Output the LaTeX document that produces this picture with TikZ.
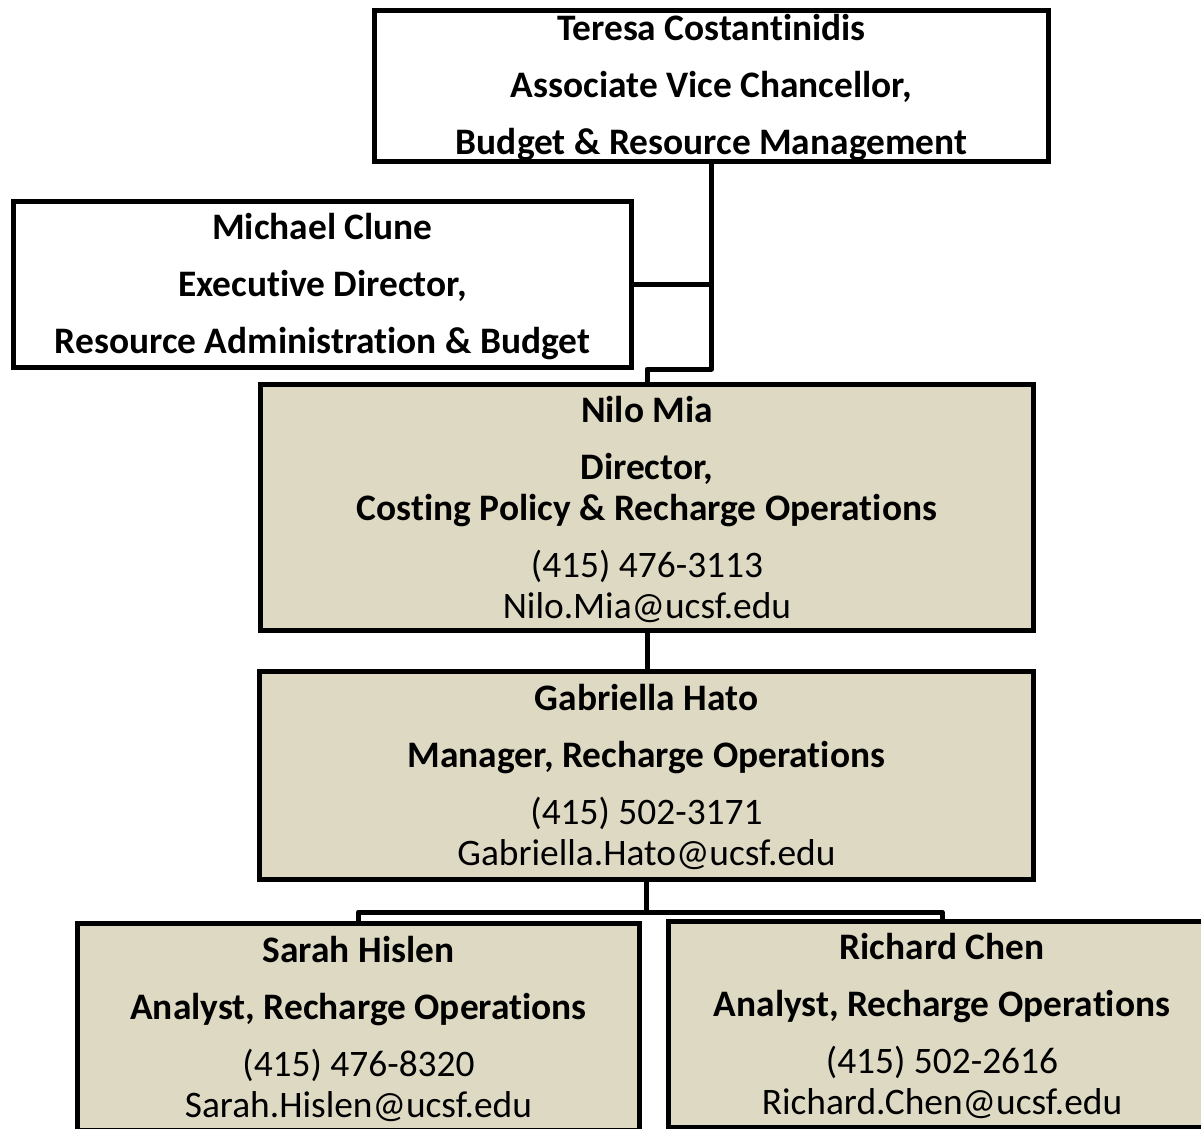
\documentclass[tikz,border=0pt]{standalone}
\usepackage{fontspec}
\setmainfont{Carlito}[Ligatures={NoCommon}]
\definecolor{boxtan}{HTML}{DDD9C3}
\newcommand{\firstline}{\rule{0pt}{15pt}}
\begin{document}
\begin{tikzpicture}[x=0.5pt,y=-0.5pt,
  box/.style={draw=black,line width=2.5pt,rectangle,inner sep=0pt,align=center,
    font=\fontsize{18.7pt}{20.5pt}\selectfont},
  wbox/.style={box,fill=white},
  tbox/.style={box,fill=boxtan},
  link/.style={draw=black,line width=2.5pt,line join=round}]
\clip (0,0) rectangle (1201,1129);
\fill[white] (0,0) rectangle (1201,1129);
\node[wbox,minimum width=337pt,minimum height=74.5pt] (teresa) at (711.5,86)
  {\firstline\textbf{Teresa Costantinidis}\\[8pt]\textbf{Associate Vice Chancellor,}\\[8pt]\textbf{Budget \& Resource Management}};
\node[wbox,minimum width=309pt,minimum height=83pt] (michael) at (322.5,284.5)
  {\firstline\textbf{Michael Clune}\\[8pt]\textbf{Executive Director,}\\[8pt]\textbf{Resource Administration \& Budget}};
\node[tbox,minimum width=386.5pt,minimum height=123pt] (nilo) at (647,507.5)
  {\firstline\textbf{Nilo Mia}\\[8pt]\textbf{Director,}\\\textbf{Costing Policy \& Recharge Operations}\\[8pt](415) 476-3113\\Nilo.Mia@ucsf.edu};
\node[tbox,minimum width=387pt,minimum height=104pt] (gab) at (646.5,775.5)
  {\firstline\textbf{Gabriella Hato}\\[8pt]\textbf{Manager, Recharge Operations}\\[8pt](415) 502-3171\\Gabriella.Hato@ucsf.edu};
\node[tbox,minimum width=281pt,minimum height=103.5pt] (sarah) at (358.5,1027)
  {\firstline\textbf{Sarah Hislen}\\[8pt]\textbf{Analyst, Recharge Operations}\\[8pt](415) 476-8320\\Sarah.Hislen@ucsf.edu};
\node[tbox,minimum width=273.5pt,minimum height=103pt] (richard) at (942,1024.5)
  {\firstline\textbf{Richard Chen}\\[8pt]\textbf{Analyst, Recharge Operations}\\[8pt](415) 502-2616\\Richard.Chen@ucsf.edu};
\coordinate (j1) at (711.5,369);
\coordinate (j2) at (646.5,912);
\draw[link] (teresa.south) -- (j1) -| (nilo.north);
\draw[link] (michael.east) -- (michael.east -| j1);
\draw[link] (nilo.south) -- (nilo.south |- gab.north);
\draw[link] (gab.south) -- (j2);
\draw[link] (sarah.north) |- (j2) -| (richard.north);
\end{tikzpicture}
\end{document}
